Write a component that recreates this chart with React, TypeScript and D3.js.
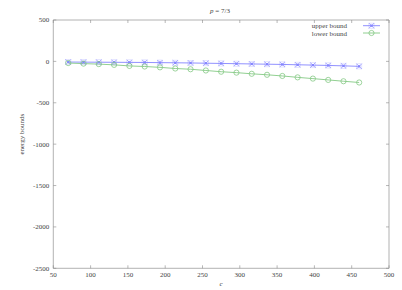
import React from "react";
import * as d3 from "d3";

const cValues = [70, 90.5, 111, 131.5, 152, 172.5, 193, 213.5, 234, 254.5, 275, 295.5, 316, 336.5, 357, 377.5, 398, 418.5, 439, 460];
const upperBound = [-8, -9, -10, -11, -12, -13, -15, -17, -19, -22, -25, -28, -31, -34, -37, -41, -45, -49, -54, -60];
const lowerBound = [-20, -27, -33, -42, -55, -62, -72, -86, -95, -110, -125, -136, -150, -162, -176, -193, -208, -224, -240, -255];
const xTicks = [50, 100, 150, 200, 250, 300, 350, 400, 450, 500];
const yTicks = [500, 0, -500, -1000, -1500, -2000, -2500];
const seriesNames = ["upper bound", "lower bound"];

const W = 402, H = 290;
const L = 53.3, R = 389, T = 20, B = 268.3;
const FONT = "'Liberation Serif', 'DejaVu Serif', serif";
const BLUE = "#8585ff";
const GREEN = "#85c985";

export default function App() {
  const x = d3.scaleLinear().domain([50, 500]).range([L, R]);
  const y = d3.scaleLinear().domain([-2500, 500]).range([B, T]);
  const line = d3.line<number>().x((_, i) => x(cValues[i])).y((d) => y(d));

  const s = 2.6;
  const cross = (cx: number, cy: number, key: string) => (
    <g key={key} stroke={BLUE} strokeWidth={0.7} fill="none">
      <line x1={cx - s} y1={cy - s} x2={cx + s} y2={cy + s} />
      <line x1={cx - s} y1={cy + s} x2={cx + s} y2={cy - s} />
      <rect x={cx - s} y={cy - s} width={2 * s} height={2 * s} strokeOpacity={0.3} />
      <rect x={cx - 1.1} y={cy - 1.1} width={2.2} height={2.2} fill={BLUE} stroke="none" />
    </g>
  );
  const circ = (cx: number, cy: number, key: string) => (
    <circle key={key} cx={cx} cy={cy} r={2.6} fill="none" stroke={GREEN} strokeWidth={0.8} />
  );

  return (
    <svg width={W} height={H} style={{ position: "absolute", left: 0, top: 0, background: "#fff" }}>
      <line x1={L} y1={T} x2={R} y2={T} stroke="#a0a0a0" strokeWidth={0.8} />
      <line x1={L} y1={B} x2={R} y2={B} stroke="#a0a0a0" strokeWidth={0.8} />
      <line x1={L} y1={T} x2={L} y2={B} stroke="#a0a0a0" strokeWidth={0.8} />
      <line x1={R} y1={T} x2={R} y2={B} stroke="#cfcfcf" strokeWidth={1.6} />
      {xTicks.map((t) => (
        <g key={"xt" + t}>
          <line x1={x(t)} y1={B} x2={x(t)} y2={B - 3} stroke="#888" strokeWidth={0.6} />
          <line x1={x(t)} y1={T} x2={x(t)} y2={T + 3} stroke="#888" strokeWidth={0.6} />
          <text x={x(t)} y={B + 9} textAnchor="middle" fontFamily={FONT} fontSize={7} fill="#444">{t}</text>
        </g>
      ))}
      {yTicks.map((t) => (
        <g key={"yt" + t}>
          <line x1={L} y1={y(t)} x2={L + 3} y2={y(t)} stroke="#888" strokeWidth={0.6} />
          <line x1={R} y1={y(t)} x2={R - 3} y2={y(t)} stroke="#888" strokeWidth={0.6} />
          <text x={L - 4} y={y(t) + 2.4} textAnchor="end" fontFamily={FONT} fontSize={7} fill="#444">{t}</text>
        </g>
      ))}
      <text x={220} y={13} textAnchor="middle" fontFamily={FONT} fontSize={7} fill="#444">
        <tspan fontStyle="italic">p</tspan> = 7/3
      </text>
      <text x={221} y={286} textAnchor="middle" fontFamily={FONT} fontSize={7} fontStyle="italic" fill="#444">c</text>
      <text transform={`translate(24,${(T + B) / 2 - 10}) rotate(-90)`} textAnchor="middle" fontFamily={FONT} fontSize={7} fill="#444">energy bounds</text>
      <path d={line(upperBound) || ""} fill="none" stroke={BLUE} strokeWidth={0.9} />
      <path d={line(lowerBound) || ""} fill="none" stroke={GREEN} strokeWidth={0.9} />
      {upperBound.map((v, i) => cross(x(cValues[i]), y(v), "u" + i))}
      {lowerBound.map((v, i) => circ(x(cValues[i]), y(v), "l" + i))}
      <text x={347} y={28} textAnchor="end" fontFamily={FONT} fontSize={7} fill="#444">{seriesNames[0]}</text>
      <line x1={363} y1={25.7} x2={380} y2={25.7} stroke={BLUE} strokeWidth={0.9} />
      {cross(371.5, 25.7, "lg0")}
      <text x={347} y={35.5} textAnchor="end" fontFamily={FONT} fontSize={7} fill="#444">{seriesNames[1]}</text>
      <line x1={363} y1={33} x2={380} y2={33} stroke={GREEN} strokeWidth={0.9} />
      {circ(371.5, 33, "lg1")}
    </svg>
  );
}
